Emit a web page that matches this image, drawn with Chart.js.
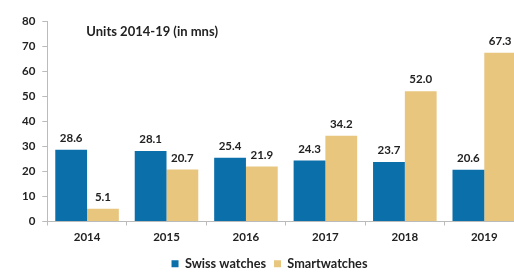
<!DOCTYPE html>
<html><head><meta charset="utf-8">
<script src="https://cdn.jsdelivr.net/npm/chart.js@4/dist/chart.umd.min.js"></script>
<style>html,body{margin:0;padding:0;background:#fff;overflow:hidden;width:514px;height:274px}
#wrap{width:524px;height:274px;position:relative}</style>
</head><body><div id="wrap"><canvas id="c" width="524" height="274"></canvas></div>
<script>
const years = ["2014","2015","2016","2017","2018","2019"];
const swissWatches = [28.6, 28.1, 25.4, 24.3, 23.7, 20.6];
const smartwatches = [5.1, 20.7, 21.9, 34.2, 52.0, 67.3];
const yTicks = [0,10,20,30,40,50,60,70,80];
const chartTitle = "Units 2014-19 (in mns)";

const FONT = "Lato, 'Open Sans', sans-serif";
const valueLabels = {
  id: 'valueLabels',
  afterDatasetsDraw(chart) {
    const ctx = chart.ctx;
    ctx.save();
    ctx.font = "bold 11.5px " + FONT;
    ctx.fillStyle = "#222";
    ctx.textAlign = "center";
    ctx.textBaseline = "bottom";
    chart.data.datasets.forEach((ds, i) => {
      chart.getDatasetMeta(i).data.forEach((bar, j) => {
        ctx.fillText(ds.data[j].toFixed(1), bar.x, bar.y - 6);
      });
    });
    ctx.restore();
  }
};
const innerTitle = {
  id: 'innerTitle',
  afterDraw(chart) {
    const ctx = chart.ctx;
    ctx.save();
    ctx.font = "bold 13px " + FONT;
    ctx.fillStyle = "#222";
    ctx.textAlign = "left";
    ctx.textBaseline = "middle";
    ctx.fillText(chartTitle, chart.chartArea.left + 39, 32);
    ctx.restore();
  }
};

new Chart(document.getElementById('c'), {
  type: 'bar',
  data: {
    labels: years,
    datasets: [
      {label: "Swiss watches", data: swissWatches, backgroundColor: "#0B6FAA", barPercentage: 1.0, categoryPercentage: 0.8},
      {label: "Smartwatches", data: smartwatches, backgroundColor: "#E8C67E", barPercentage: 1.0, categoryPercentage: 0.8}
    ]
  },
  options: {
    responsive: false,
    animation: false,
    layout: {padding: {top: 21, left: 15, right: 0, bottom: -6}},
    plugins: {
      legend: {
        position: 'bottom',
        labels: {boxWidth: 7, boxHeight: 7, font: {family: FONT, size: 12.7, weight: 'bold'}, color: "#222", padding: 8}
      },
      tooltip: {enabled: false}
    },
    scales: {
      x: {
        grid: {drawOnChartArea: false, tickLength: 4, color: "#bbb"},
        border: {color: "#bbb"},
        ticks: {font: {family: FONT, size: 11.5, weight: 'bold'}, color: "#222", padding: 5}
      },
      y: {
        min: 0, max: 80,
        afterBuildTicks(axis) { axis.ticks = yTicks.map(v => ({value: v})); },
        grid: {drawOnChartArea: false, tickLength: 5, color: "#bbb"},
        border: {color: "#bbb"},
        ticks: {font: {family: FONT, size: 11.5, weight: 'bold'}, color: "#222", padding: 7}
      }
    }
  },
  plugins: [valueLabels, innerTitle]
});
</script></body></html>
